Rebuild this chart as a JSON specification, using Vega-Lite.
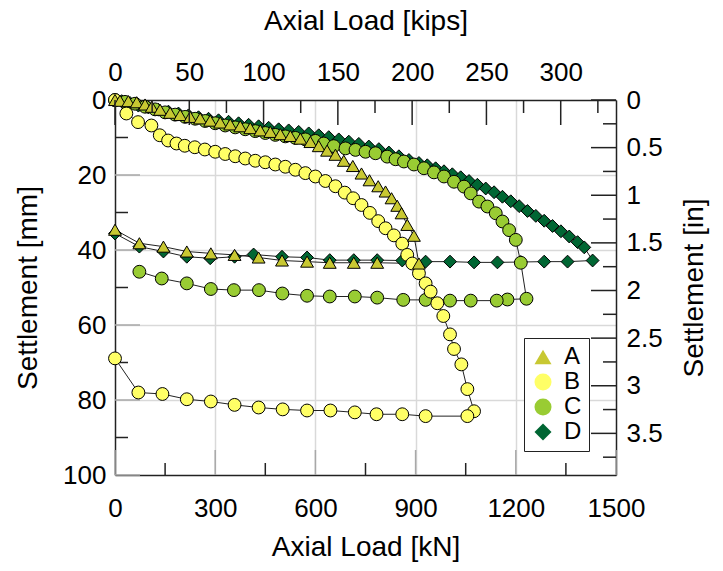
{
  "$schema": "https://vega.github.io/schema/vega-lite/v6.json",
  "width": 501,
  "height": 375,
  "autosize": "none",
  "padding": {"left": 115, "top": 100, "right": 107, "bottom": 96},
  "config": {
    "font": "Liberation Sans",
    "view": {"stroke": null},
    "axis": {"labelFont": "Liberation Sans", "titleFont": "Liberation Sans", "labelColor": "black", "titleColor": "black", "titleFontWeight": "normal", "labelFlush": false, "labelOverlap": false},
    "legend": {"labelFont": "Liberation Sans"}
  },
  "datasets": {
    "frame": [
      {"kips": 0, "inch": 0},
      {"kips": 337.21, "inch": 3.937}
    ],
    "bMaj": [{"load": 0, "settle": 100}, {"load": 300, "settle": 100}, {"load": 600, "settle": 100}, {"load": 900, "settle": 100}, {"load": 1200, "settle": 100}, {"load": 1500, "settle": 100}],
    "bMin": [{"load": 150, "settle": 100}, {"load": 450, "settle": 100}, {"load": 750, "settle": 100}, {"load": 1050, "settle": 100}, {"load": 1350, "settle": 100}],
    "lMaj": [{"load": 0, "settle": 0}, {"load": 0, "settle": 20}, {"load": 0, "settle": 40}, {"load": 0, "settle": 60}, {"load": 0, "settle": 80}, {"load": 0, "settle": 100}],
    "lMin": [{"load": 0, "settle": 10}, {"load": 0, "settle": 30}, {"load": 0, "settle": 50}, {"load": 0, "settle": 70}, {"load": 0, "settle": 90}],
    "tMaj": [{"kips": 0, "inch": 0}, {"kips": 50, "inch": 0}, {"kips": 100, "inch": 0}, {"kips": 150, "inch": 0}, {"kips": 200, "inch": 0}, {"kips": 250, "inch": 0}, {"kips": 300, "inch": 0}],
    "tMin": [{"kips": 25, "inch": 0}, {"kips": 75, "inch": 0}, {"kips": 125, "inch": 0}, {"kips": 175, "inch": 0}, {"kips": 225, "inch": 0}, {"kips": 275, "inch": 0}, {"kips": 325, "inch": 0}],
    "rMaj": [{"kips": 337.21, "inch": 0}, {"kips": 337.21, "inch": 0.5}, {"kips": 337.21, "inch": 1}, {"kips": 337.21, "inch": 1.5}, {"kips": 337.21, "inch": 2}, {"kips": 337.21, "inch": 2.5}, {"kips": 337.21, "inch": 3}, {"kips": 337.21, "inch": 3.5}],
    "rMin": [{"kips": 337.21, "inch": 0.25}, {"kips": 337.21, "inch": 0.75}, {"kips": 337.21, "inch": 1.25}, {"kips": 337.21, "inch": 1.75}, {"kips": 337.21, "inch": 2.25}, {"kips": 337.21, "inch": 2.75}, {"kips": 337.21, "inch": 3.25}, {"kips": 337.21, "inch": 3.75}],
    "pts": [
      {"series":"D","step":1,"load":0,"settle":0},
      {"series":"D","step":2,"load":20,"settle":0.3},
      {"series":"D","step":3,"load":45,"settle":0.8},
      {"series":"D","step":4,"load":70,"settle":1.5},
      {"series":"D","step":5,"load":100,"settle":2.0},
      {"series":"D","step":6,"load":130,"settle":2.6},
      {"series":"D","step":7,"load":160,"settle":3.1},
      {"series":"D","step":8,"load":190,"settle":3.6},
      {"series":"D","step":9,"load":220,"settle":4.1},
      {"series":"D","step":10,"load":250,"settle":4.6},
      {"series":"D","step":11,"load":280,"settle":5.0},
      {"series":"D","step":12,"load":310,"settle":5.4},
      {"series":"D","step":13,"load":340,"settle":5.8},
      {"series":"D","step":14,"load":370,"settle":6.2},
      {"series":"D","step":15,"load":400,"settle":6.6},
      {"series":"D","step":16,"load":430,"settle":7.0},
      {"series":"D","step":17,"load":460,"settle":7.4},
      {"series":"D","step":18,"load":490,"settle":7.8},
      {"series":"D","step":19,"load":520,"settle":8.1},
      {"series":"D","step":20,"load":550,"settle":8.5},
      {"series":"D","step":21,"load":580,"settle":8.9},
      {"series":"D","step":22,"load":610,"settle":9.4},
      {"series":"D","step":23,"load":640,"settle":9.9},
      {"series":"D","step":24,"load":670,"settle":10.5},
      {"series":"D","step":25,"load":700,"settle":11.1},
      {"series":"D","step":26,"load":730,"settle":11.7},
      {"series":"D","step":27,"load":760,"settle":12.4},
      {"series":"D","step":28,"load":790,"settle":13.1},
      {"series":"D","step":29,"load":820,"settle":14.0},
      {"series":"D","step":30,"load":850,"settle":15.0},
      {"series":"D","step":31,"load":880,"settle":16.0},
      {"series":"D","step":32,"load":910,"settle":16.8},
      {"series":"D","step":33,"load":935,"settle":17.4},
      {"series":"D","step":34,"load":960,"settle":18.2},
      {"series":"D","step":35,"load":985,"settle":19.0},
      {"series":"D","step":36,"load":1010,"settle":19.8},
      {"series":"D","step":37,"load":1035,"settle":20.6},
      {"series":"D","step":38,"load":1060,"settle":21.6},
      {"series":"D","step":39,"load":1085,"settle":22.6},
      {"series":"D","step":40,"load":1110,"settle":23.6},
      {"series":"D","step":41,"load":1135,"settle":24.6},
      {"series":"D","step":42,"load":1160,"settle":25.8},
      {"series":"D","step":43,"load":1185,"settle":27.0},
      {"series":"D","step":44,"load":1210,"settle":28.3},
      {"series":"D","step":45,"load":1235,"settle":29.6},
      {"series":"D","step":46,"load":1260,"settle":30.9},
      {"series":"D","step":47,"load":1285,"settle":32.2},
      {"series":"D","step":48,"load":1310,"settle":33.6},
      {"series":"D","step":49,"load":1335,"settle":35.0},
      {"series":"D","step":50,"load":1360,"settle":36.4},
      {"series":"D","step":51,"load":1385,"settle":37.9},
      {"series":"D","step":52,"load":1405,"settle":39.3},
      {"series":"D","step":53,"load":1430,"settle":42.8},
      {"series":"D","step":54,"load":1355,"settle":43.1},
      {"series":"D","step":55,"load":1285,"settle":43.1},
      {"series":"D","step":56,"load":1215,"settle":43.2},
      {"series":"D","step":57,"load":1145,"settle":43.3},
      {"series":"D","step":58,"load":1075,"settle":43.3},
      {"series":"D","step":59,"load":1003,"settle":43.1},
      {"series":"D","step":60,"load":930,"settle":43.1},
      {"series":"D","step":61,"load":860,"settle":42.8},
      {"series":"D","step":62,"load":785,"settle":42.7},
      {"series":"D","step":63,"load":715,"settle":42.7},
      {"series":"D","step":64,"load":643,"settle":42.7},
      {"series":"D","step":65,"load":575,"settle":42.0},
      {"series":"D","step":66,"load":500,"settle":41.8},
      {"series":"D","step":67,"load":415,"settle":41.2},
      {"series":"D","step":68,"load":358,"settle":41.8},
      {"series":"D","step":69,"load":285,"settle":42.2},
      {"series":"D","step":70,"load":215,"settle":41.8},
      {"series":"D","step":71,"load":145,"settle":40.4},
      {"series":"D","step":72,"load":73,"settle":39.1},
      {"series":"D","step":73,"load":0,"settle":35.6},
      {"series":"C","step":1,"load":0,"settle":0},
      {"series":"C","step":2,"load":30,"settle":0.5},
      {"series":"C","step":3,"load":60,"settle":1.0},
      {"series":"C","step":4,"load":90,"settle":1.8},
      {"series":"C","step":5,"load":120,"settle":2.5},
      {"series":"C","step":6,"load":150,"settle":3.3},
      {"series":"C","step":7,"load":180,"settle":3.9},
      {"series":"C","step":8,"load":210,"settle":4.5},
      {"series":"C","step":9,"load":240,"settle":5.0},
      {"series":"C","step":10,"load":270,"settle":5.6},
      {"series":"C","step":11,"load":300,"settle":6.2},
      {"series":"C","step":12,"load":330,"settle":6.8},
      {"series":"C","step":13,"load":360,"settle":7.3},
      {"series":"C","step":14,"load":390,"settle":7.8},
      {"series":"C","step":15,"load":420,"settle":8.3},
      {"series":"C","step":16,"load":450,"settle":8.8},
      {"series":"C","step":17,"load":480,"settle":9.3},
      {"series":"C","step":18,"load":510,"settle":9.7},
      {"series":"C","step":19,"load":540,"settle":10.1},
      {"series":"C","step":20,"load":570,"settle":10.5},
      {"series":"C","step":21,"load":600,"settle":10.9},
      {"series":"C","step":22,"load":625,"settle":11.6},
      {"series":"C","step":23,"load":655,"settle":12.3},
      {"series":"C","step":24,"load":690,"settle":12.9},
      {"series":"C","step":25,"load":720,"settle":13.3},
      {"series":"C","step":26,"load":750,"settle":13.8},
      {"series":"C","step":27,"load":780,"settle":14.2},
      {"series":"C","step":28,"load":815,"settle":15.1},
      {"series":"C","step":29,"load":840,"settle":15.8},
      {"series":"C","step":30,"load":865,"settle":16.4},
      {"series":"C","step":31,"load":895,"settle":17.2},
      {"series":"C","step":32,"load":925,"settle":18.2},
      {"series":"C","step":33,"load":955,"settle":19.3},
      {"series":"C","step":34,"load":985,"settle":20.4},
      {"series":"C","step":35,"load":1015,"settle":21.8},
      {"series":"C","step":36,"load":1045,"settle":23.1},
      {"series":"C","step":37,"load":1065,"settle":24.9},
      {"series":"C","step":38,"load":1090,"settle":27.1},
      {"series":"C","step":39,"load":1115,"settle":28.4},
      {"series":"C","step":40,"load":1140,"settle":30.2},
      {"series":"C","step":41,"load":1160,"settle":32.4},
      {"series":"C","step":42,"load":1180,"settle":34.7},
      {"series":"C","step":43,"load":1200,"settle":37.3},
      {"series":"C","step":44,"load":1215,"settle":43.4},
      {"series":"C","step":45,"load":1232,"settle":53.0},
      {"series":"C","step":46,"load":1175,"settle":53.2},
      {"series":"C","step":47,"load":1143,"settle":53.5},
      {"series":"C","step":48,"load":1065,"settle":53.5},
      {"series":"C","step":49,"load":1003,"settle":53.5},
      {"series":"C","step":50,"load":930,"settle":53.3},
      {"series":"C","step":51,"load":863,"settle":53.3},
      {"series":"C","step":52,"load":785,"settle":52.7},
      {"series":"C","step":53,"load":718,"settle":52.4},
      {"series":"C","step":54,"load":643,"settle":52.4},
      {"series":"C","step":55,"load":575,"settle":52.2},
      {"series":"C","step":56,"load":501,"settle":51.6},
      {"series":"C","step":57,"load":431,"settle":50.7},
      {"series":"C","step":58,"load":356,"settle":50.7},
      {"series":"C","step":59,"load":287,"settle":50.4},
      {"series":"C","step":60,"load":215,"settle":48.9},
      {"series":"C","step":61,"load":140,"settle":47.6},
      {"series":"C","step":62,"load":73,"settle":45.8},
      {"series":"B","step":1,"load":0,"settle":0},
      {"series":"B","step":2,"load":34,"settle":3.6},
      {"series":"B","step":3,"load":69,"settle":5.9},
      {"series":"B","step":4,"load":109,"settle":6.8},
      {"series":"B","step":5,"load":134,"settle":9.4},
      {"series":"B","step":6,"load":159,"settle":10.8},
      {"series":"B","step":7,"load":184,"settle":11.6},
      {"series":"B","step":8,"load":209,"settle":12.2},
      {"series":"B","step":9,"load":239,"settle":12.6},
      {"series":"B","step":10,"load":269,"settle":13.2},
      {"series":"B","step":11,"load":300,"settle":13.8},
      {"series":"B","step":12,"load":330,"settle":14.4},
      {"series":"B","step":13,"load":360,"settle":15.0},
      {"series":"B","step":14,"load":390,"settle":15.6},
      {"series":"B","step":15,"load":420,"settle":16.2},
      {"series":"B","step":16,"load":450,"settle":16.6},
      {"series":"B","step":17,"load":480,"settle":17.2},
      {"series":"B","step":18,"load":510,"settle":17.8},
      {"series":"B","step":19,"load":540,"settle":18.6},
      {"series":"B","step":20,"load":570,"settle":19.5},
      {"series":"B","step":21,"load":600,"settle":20.4},
      {"series":"B","step":22,"load":630,"settle":21.6},
      {"series":"B","step":23,"load":660,"settle":23.0},
      {"series":"B","step":24,"load":688,"settle":24.7},
      {"series":"B","step":25,"load":713,"settle":26.2},
      {"series":"B","step":26,"load":738,"settle":28.0},
      {"series":"B","step":27,"load":763,"settle":30.1},
      {"series":"B","step":28,"load":788,"settle":32.3},
      {"series":"B","step":29,"load":810,"settle":34.2},
      {"series":"B","step":30,"load":835,"settle":36.1},
      {"series":"B","step":31,"load":860,"settle":38.3},
      {"series":"B","step":32,"load":875,"settle":41.3},
      {"series":"B","step":33,"load":890,"settle":43.6},
      {"series":"B","step":34,"load":910,"settle":46.2},
      {"series":"B","step":35,"load":930,"settle":48.9},
      {"series":"B","step":36,"load":945,"settle":51.1},
      {"series":"B","step":37,"load":965,"settle":54.2},
      {"series":"B","step":38,"load":983,"settle":57.6},
      {"series":"B","step":39,"load":1003,"settle":62.5},
      {"series":"B","step":40,"load":1015,"settle":66.4},
      {"series":"B","step":41,"load":1037,"settle":70.5},
      {"series":"B","step":42,"load":1055,"settle":77.1},
      {"series":"B","step":43,"load":1075,"settle":83.0},
      {"series":"B","step":44,"load":1055,"settle":84.3},
      {"series":"B","step":45,"load":930,"settle":84.3},
      {"series":"B","step":46,"load":860,"settle":83.8},
      {"series":"B","step":47,"load":783,"settle":83.8},
      {"series":"B","step":48,"load":718,"settle":83.3},
      {"series":"B","step":49,"load":645,"settle":82.8},
      {"series":"B","step":50,"load":575,"settle":82.8},
      {"series":"B","step":51,"load":502,"settle":82.5},
      {"series":"B","step":52,"load":430,"settle":82.0},
      {"series":"B","step":53,"load":358,"settle":81.3},
      {"series":"B","step":54,"load":287,"settle":80.4},
      {"series":"B","step":55,"load":215,"settle":79.8},
      {"series":"B","step":56,"load":142,"settle":78.4},
      {"series":"B","step":57,"load":70,"settle":78.0},
      {"series":"B","step":58,"load":0,"settle":68.9},
      {"series":"A","step":1,"load":0,"settle":0},
      {"series":"A","step":2,"load":15,"settle":0.2},
      {"series":"A","step":3,"load":40,"settle":0.3},
      {"series":"A","step":4,"load":65,"settle":0.6},
      {"series":"A","step":5,"load":90,"settle":1.2},
      {"series":"A","step":6,"load":110,"settle":1.8},
      {"series":"A","step":7,"load":135,"settle":2.6},
      {"series":"A","step":8,"load":165,"settle":3.4},
      {"series":"A","step":9,"load":195,"settle":4.0},
      {"series":"A","step":10,"load":225,"settle":4.5},
      {"series":"A","step":11,"load":255,"settle":4.9},
      {"series":"A","step":12,"load":285,"settle":5.5},
      {"series":"A","step":13,"load":315,"settle":6.0},
      {"series":"A","step":14,"load":345,"settle":6.5},
      {"series":"A","step":15,"load":375,"settle":7.0},
      {"series":"A","step":16,"load":405,"settle":7.5},
      {"series":"A","step":17,"load":435,"settle":8.1},
      {"series":"A","step":18,"load":465,"settle":8.5},
      {"series":"A","step":19,"load":495,"settle":9.1},
      {"series":"A","step":20,"load":525,"settle":9.6},
      {"series":"A","step":21,"load":555,"settle":10.3},
      {"series":"A","step":22,"load":585,"settle":11.2},
      {"series":"A","step":23,"load":610,"settle":12.3},
      {"series":"A","step":24,"load":635,"settle":13.5},
      {"series":"A","step":25,"load":660,"settle":14.6},
      {"series":"A","step":26,"load":685,"settle":16.2},
      {"series":"A","step":27,"load":712,"settle":17.6},
      {"series":"A","step":28,"load":738,"settle":19.6},
      {"series":"A","step":29,"load":762,"settle":21.4},
      {"series":"A","step":30,"load":788,"settle":23.0},
      {"series":"A","step":31,"load":810,"settle":24.4},
      {"series":"A","step":32,"load":828,"settle":26.2},
      {"series":"A","step":33,"load":845,"settle":28.2},
      {"series":"A","step":34,"load":858,"settle":30.2},
      {"series":"A","step":35,"load":875,"settle":33.3},
      {"series":"A","step":36,"load":895,"settle":36.2},
      {"series":"A","step":37,"load":910,"settle":43.6},
      {"series":"A","step":38,"load":785,"settle":43.4},
      {"series":"A","step":39,"load":715,"settle":43.4},
      {"series":"A","step":40,"load":643,"settle":43.4},
      {"series":"A","step":41,"load":575,"settle":43.1},
      {"series":"A","step":42,"load":500,"settle":42.8},
      {"series":"A","step":43,"load":430,"settle":42.0},
      {"series":"A","step":44,"load":358,"settle":41.3},
      {"series":"A","step":45,"load":287,"settle":40.9},
      {"series":"A","step":46,"load":215,"settle":40.4},
      {"series":"A","step":47,"load":145,"settle":39.1},
      {"series":"A","step":48,"load":73,"settle":38.2},
      {"series":"A","step":49,"load":0,"settle":34.6}
    ]
  },
  "layer": [
    {
      "data": {"name": "pts"},
      "encoding": {
        "x": {"field": "load", "type": "quantitative", "scale": {"domain": [0, 1500], "nice": false, "zero": false},
          "axis": {"orient": "bottom", "values": [0, 300, 600, 900, 1200, 1500], "format": "d", "title": "Axial Load [kN]", "labelFontSize": 26, "titleFontSize": 28,
            "ticks": false, "labelPadding": 20, "titlePadding": 12,
            "domainColor": "#222222", "domainWidth": 1.5,
            "grid": true, "gridColor": "#d9d9d9", "gridWidth": 1.5,
            "gridOpacity": {"condition": {"test": "datum.value > 0 && datum.value < 1500", "value": 1}, "value": 0}}},
        "y": {"field": "settle", "type": "quantitative", "scale": {"domain": [0, 100], "reverse": true, "nice": false, "zero": false},
          "axis": {"orient": "left", "values": [0, 20, 40, 60, 80, 100], "format": "d", "title": "Settlement [mm]", "labelFontSize": 26, "titleFontSize": 28,
            "ticks": false, "labelPadding": 9, "titlePadding": 20,
            "domainColor": "#222222", "domainWidth": 1.5,
            "grid": true, "gridColor": "#d9d9d9", "gridWidth": 1.5,
            "gridOpacity": {"condition": {"test": "datum.value > 0 && datum.value < 100", "value": 1}, "value": 0}}}
      },
      "layer": [
        {"data": {"name": "bMaj"}, "mark": {"type": "point", "shape": "M0,0L0,-1", "size": 2500, "filled": false, "stroke": "#a8a8a8", "strokeWidth": 1.5, "opacity": 1}},
        {"data": {"name": "bMin"}, "mark": {"type": "point", "shape": "M0,0L0,-1", "size": 576, "filled": false, "stroke": "#222222", "strokeWidth": 1.5, "opacity": 1}},
        {"data": {"name": "lMaj"}, "mark": {"type": "point", "shape": "M0,0L1,0", "size": 2500, "filled": false, "stroke": "#a8a8a8", "strokeWidth": 1.5, "opacity": 1}},
        {"data": {"name": "lMin"}, "mark": {"type": "point", "shape": "M0,0L1,0", "size": 676, "filled": false, "stroke": "#222222", "strokeWidth": 1.5, "opacity": 1}},
        {"mark": {"type": "line", "color": "#222222", "strokeWidth": 1},
         "encoding": {"detail": {"field": "series"}, "order": {"field": "step", "type": "quantitative"}}},
        {"mark": {"type": "point", "filled": true, "stroke": "black", "strokeWidth": 1, "size": 165, "opacity": 1},
         "encoding": {
           "fill": {"field": "series", "type": "nominal", "scale": {"domain": ["A", "B", "C", "D"], "range": ["#c8c832", "#ffff66", "#99cc33", "#006633"]},
             "legend": {"title": null, "orient": "none", "legendX": 409, "legendY": 238, "labelFontSize": 24, "symbolSize": 290, "symbolStrokeColor": "black", "symbolStrokeWidth": 1, "strokeColor": "#222222", "fillColor": "white", "padding": 7, "rowPadding": 1, "labelOffset": 9}},
           "shape": {"field": "series", "type": "nominal", "scale": {"domain": ["A", "B", "C", "D"], "range": ["triangle-up", "circle", "circle", "diamond"]},
             "legend": {"title": null, "orient": "none", "legendX": 409, "legendY": 238, "labelFontSize": 24, "symbolSize": 290, "symbolStrokeColor": "black", "symbolStrokeWidth": 1, "strokeColor": "#222222", "fillColor": "white", "padding": 7, "rowPadding": 1, "labelOffset": 9}}
         }}
      ]
    },
    {
      "data": {"name": "frame"},
      "encoding": {
        "x": {"field": "kips", "type": "quantitative", "scale": {"domain": [0, 337.21], "nice": false, "zero": false},
          "axis": {"orient": "top", "values": [0, 50, 100, 150, 200, 250, 300], "format": "d", "title": "Axial Load [kips]", "labelFontSize": 26, "titleFontSize": 28,
            "ticks": false, "labelPadding": 15, "titlePadding": 24,
            "domainColor": "#222222", "domainWidth": 1.5, "grid": false}},
        "y": {"field": "inch", "type": "quantitative", "scale": {"domain": [0, 3.937], "reverse": true, "nice": false, "zero": false},
          "axis": {"orient": "right", "values": [0, 0.5, 1, 1.5, 2, 2.5, 3, 3.5], "format": "~g", "title": "Settlement [in]", "labelFontSize": 26, "titleFontSize": 28,
            "ticks": false, "labelPadding": 10, "titlePadding": 18, "titleAngle": -90, "titleBaseline": "top",
            "domainColor": "#222222", "domainWidth": 1.5, "grid": false}}
      },
      "layer": [
        {"mark": {"type": "point", "opacity": 0}},
        {"data": {"name": "tMaj"}, "mark": {"type": "point", "shape": "M0,0L0,1", "size": 2500, "filled": false, "stroke": "#222222", "strokeWidth": 1.5, "opacity": 1}},
        {"data": {"name": "tMin"}, "mark": {"type": "point", "shape": "M0,0L0,1", "size": 676, "filled": false, "stroke": "#222222", "strokeWidth": 1.5, "opacity": 1}},
        {"data": {"name": "rMaj"}, "mark": {"type": "point", "shape": "M0,0L-1,0", "size": 2500, "filled": false, "stroke": "#222222", "strokeWidth": 1.5, "opacity": 1}},
        {"data": {"name": "rMin"}, "mark": {"type": "point", "shape": "M0,0L-1,0", "size": 676, "filled": false, "stroke": "#222222", "strokeWidth": 1.5, "opacity": 1}}
      ]
    }
  ],
  "resolve": {"scale": {"x": "independent", "y": "independent"}}
}
